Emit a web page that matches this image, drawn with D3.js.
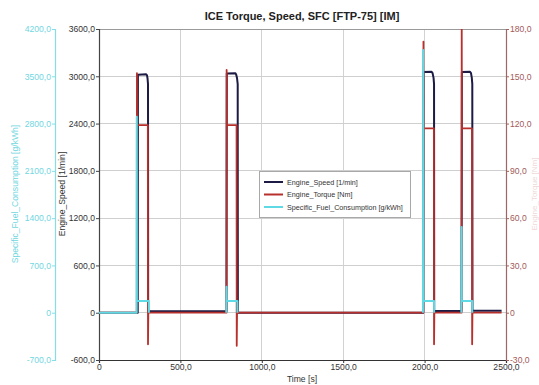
<!DOCTYPE html>
<html>
<head>
<meta charset="utf-8">
<script src="https://cdn.jsdelivr.net/npm/d3@7"></script>
<style>
  html, body { margin: 0; padding: 0; background: #fff; }
  svg { display: block; font-family: "Liberation Sans", Arial, sans-serif; }
</style>
</head>
<body>
<svg id="chart" width="539" height="385"></svg>
<script>
// ---- data -------------------------------------------------------------
// Engine speed [1/min] over time [s]
const speedTime  = [0, 238, 239, 290, 295, 298, 301, 302, 783, 785, 838, 843, 848, 852, 853, 1992, 1994, 2043, 2049, 2055, 2058, 2059, 2227, 2229, 2279, 2285, 2290, 2293, 2294, 2473];
const speedValue = [0, 0, 3020, 3025, 3012, 2975, 2900, 20, 20, 3035, 3038, 3020, 2975, 2900, 0, 0, 3055, 3058, 3040, 2980, 2900, 22, 22, 3055, 3058, 3040, 2980, 2900, 25, 25];

// Engine torque [Nm] over time [s]
const torqueTime  = [0, 232, 233, 234, 300, 301, 303, 783, 784, 785, 845, 846, 848, 1992, 1993, 1994, 2057, 2058, 2060, 2227, 2228, 2229, 2291, 2292, 2294, 2473];
const torqueValue = [0, 0, 152, 119, 119, -20, 0, 0, 154, 119, 119, -21, 0, 0, 172, 117, 117, -20, 0, 0, 190, 117, 117, -20, 0, 0];

// Specific fuel consumption [g/kWh] over time [s]; null = not defined
const sfcTime  = [0, 231, 232, 233, 306, 306.5, 307, 782, 783, 784, 850, 850.5, 851, 1990, 1991.5, 1992.5, 2058, 2058.5, 2059, 2226, 2227.5, 2228.5, 2292, 2292.5];
const sfcValue = [0, 0, 2900, 173, 173, 0, null, 0, 385, 173, 173, 0, null, 0, 3890, 173, 173, 0, null, 0, 1270, 173, 173, 0];

// axis ticks
const timeTicks   = [0, 500, 1000, 1500, 2000, 2500];
const speedTicks  = [-600, 0, 600, 1200, 1800, 2400, 3000, 3600];
const sfcTicks    = [-700, 0, 700, 1400, 2100, 2800, 3500, 4200];
const torqueTicks = [-30, 0, 30, 60, 90, 120, 150, 180];

const seriesNames = ["Engine_Speed [1/min]", "Engine_Torque [Nm]", "Specific_Fuel_Consumption [g/kWh]"];
const seriesColors = ["#1b1b45", "#b8302c", "#5fd9e3"];

// ---- layout -------------------------------------------------------------
const svg = d3.select("#chart");
const L = 99, R = 506, T = 29, B = 360;

const x  = d3.scaleLinear().domain([0, 2500]).range([L, R]);
const yS = d3.scaleLinear().domain([-600, 3600]).range([B, T]);
const yF = d3.scaleLinear().domain([-700, 4200]).range([B, T]);
const yT = d3.scaleLinear().domain([-30, 180]).range([B, T]);

const fmt = v => v === 0 ? "0" : v.toFixed(1).replace(".", ",");

// grid
const grid = svg.append("g");
grid.selectAll("line.v").data(timeTicks.slice(1, -1)).join("line")
  .attr("x1", d => x(d)).attr("x2", d => x(d)).attr("y1", T).attr("y2", B)
  .attr("stroke", "#d2d2d2").attr("stroke-width", 1).attr("shape-rendering", "crispEdges");
grid.selectAll("line.h").data(speedTicks.slice(1)).join("line")
  .attr("x1", L).attr("x2", R).attr("y1", d => yS(d)).attr("y2", d => yS(d))
  .attr("stroke", d => d === 3600 ? "#9a9a9a" : "#cfcfcf").attr("stroke-width", 1)
  .attr("shape-rendering", "crispEdges");

// axes
const fontSize = "8.6px";
function styleAxis(g, color, lineColor) {
  g.select(".domain").attr("stroke", lineColor).attr("stroke-width", 1.2);
  g.selectAll(".tick line").attr("stroke", lineColor);
  g.selectAll(".tick text").attr("fill", color).style("font-size", fontSize)
    .style("font-family", "Liberation Sans, Arial, sans-serif");
}

const axX = svg.append("g").attr("transform", `translate(0,${B})`)
  .call(d3.axisBottom(x).tickValues(timeTicks).tickFormat(fmt).tickSizeOuter(0).tickSize(3).tickPadding(1));
styleAxis(axX, "#333", "#333");

const axS = svg.append("g").attr("transform", `translate(${L},0)`)
  .call(d3.axisLeft(yS).tickValues(speedTicks).tickFormat(fmt).tickSizeOuter(0).tickSize(3).tickPadding(1));
styleAxis(axS, "#333", "#444");

const axF = svg.append("g").attr("transform", `translate(55,0)`)
  .call(d3.axisLeft(yF).tickValues(sfcTicks).tickFormat(fmt).tickSizeOuter(0).tickSize(3).tickPadding(1));
styleAxis(axF, "#72d6df", "#86dde4");

const axT = svg.append("g").attr("transform", `translate(${R},0)`)
  .call(d3.axisRight(yT).tickValues(torqueTicks).tickFormat(fmt).tickSizeOuter(0).tickSize(3).tickPadding(1));
styleAxis(axT, "#a35a5a", "#a06464");

// series
const clip = svg.append("clipPath").attr("id", "plot")
  .append("rect").attr("x", L).attr("y", T).attr("width", R - L).attr("height", B - T);

const plot = svg.append("g").attr("clip-path", "url(#plot)");

function drawSeries(times, values, yScale, color, width) {
  const pts = times.map((t, i) => [t, values[i]]);
  const line = d3.line()
    .defined(d => d[1] !== null)
    .x(d => x(d[0])).y(d => yScale(d[1]));
  plot.append("path").datum(pts)
    .attr("fill", "none").attr("stroke", color).attr("stroke-width", width)
    .attr("stroke-linejoin", "round").attr("d", line);
}
drawSeries(speedTime, speedValue, yS, seriesColors[0], 2);
drawSeries(torqueTime, torqueValue, yT, seriesColors[1], 1.8);
drawSeries(sfcTime, sfcValue, yF, seriesColors[2], 2);

// title and axis titles
svg.append("text").attr("x", 302).attr("y", 20).attr("text-anchor", "middle")
  .style("font-size", "11px").style("font-weight", "bold").attr("fill", "#222")
  .text("ICE Torque, Speed, SFC [FTP-75] [IM]");

svg.append("text").attr("x", 302).attr("y", 382).attr("text-anchor", "middle")
  .style("font-size", "8.6px").attr("fill", "#333").text("Time [s]");

svg.append("text").attr("transform", "translate(18,194) rotate(-90)")
  .attr("text-anchor", "middle").style("font-size", "8.6px").attr("fill", "#72d6df")
  .text(seriesNames[2]);

svg.append("text").attr("transform", "translate(65,194) rotate(-90)")
  .attr("text-anchor", "middle").style("font-size", "8.6px").attr("fill", "#333")
  .text(seriesNames[0]);

svg.append("text").attr("transform", "translate(537,194) rotate(-90)")
  .attr("text-anchor", "middle").style("font-size", "8px").attr("fill", "#f0d8d8")
  .text(seriesNames[1]);

// legend
const lg = svg.append("g").attr("transform", "translate(259,171)");
lg.append("rect").attr("x", 0.5).attr("y", 0.5).attr("width", 151).attr("height", 46)
  .attr("fill", "#fff").attr("stroke", "#a8a8a8");
seriesNames.forEach((name, i) => {
  const yy = 11 + i * 12.5;
  lg.append("line").attr("x1", 5).attr("x2", 24).attr("y1", yy).attr("y2", yy)
    .attr("stroke", seriesColors[i]).attr("stroke-width", 2);
  lg.append("text").attr("x", 28).attr("y", yy + 2.6)
    .style("font-size", "7.2px").attr("fill", "#333").text(name);
});
</script>
</body>
</html>
